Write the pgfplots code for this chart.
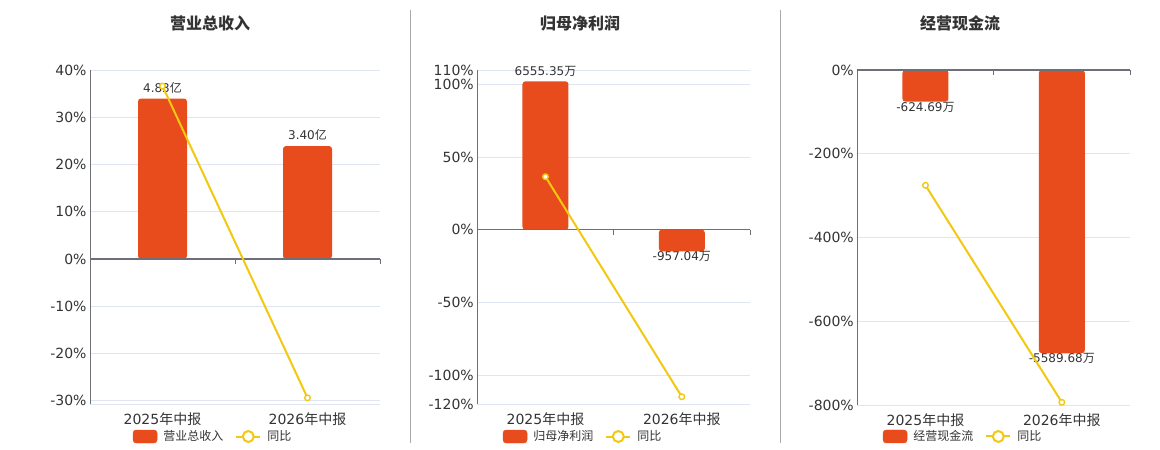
\documentclass[border=0pt]{standalone}
\usepackage{fontspec}
\setmainfont{DejaVu Sans}
\newfontfamily\cjk{Noto Sans CJK SC}
\usepackage{pgfplots}
\pgfplotsset{compat=1.18}
\definecolor{barc}{HTML}{E84C1C}
\definecolor{linec}{HTML}{F2C811}
\definecolor{gridc}{HTML}{E0E6F1}
\definecolor{axc}{HTML}{6E7079}
\definecolor{txt}{HTML}{333333}
\definecolor{sepc}{HTML}{AAAAAA}
\pgfplotsset{
  gaxis/.style={scale only axis, anchor=south west, xmin=-0.5, xmax=1.5,
    xtick={0,1}, xticklabels={2025{\cjk 年中报},2026{\cjk 年中报}},
    yticklabel={\pgfmathprintnumber{\tick}\%},
    /pgf/number format/assume math mode=true,
    ymajorgrids, grid style={gridc, line width=0.8pt},
    axis line style={draw=none}, major tick length=0pt,
    tick label style={font=\fontsize{14}{16}\selectfont, text=txt},
    xticklabel style={yshift=-5pt}},
  baxis/.style={scale only axis, anchor=south west, xmin=-0.5, xmax=1.5, hide axis, clip=false,
    ybar, point meta=y,
    nodes near coords style={font=\fontsize{12}{14}\selectfont, text=txt, inner sep=2.5pt, yshift=2.5pt}},
  laxis/.style={scale only axis, anchor=south west, xmin=-0.5, xmax=1.5, hide axis, clip=false,
    legend columns=-1,
    legend style={anchor=west, draw=none, fill=none, inner sep=0pt,
      font=\fontsize{12}{14}\selectfont\cjk, text=txt,
      nodes={inner sep=0pt},
      /tikz/every odd column/.append style={column sep=6pt},
      /tikz/every even column/.append style={column sep=12pt}}},
  barleg/.style={legend image code/.code={\fill[barc, rounded corners=3pt] (0pt,-6.5pt) rectangle (24pt,6.5pt);}},
  lineleg/.style={legend image code/.code={\draw[linec,line width=2pt] (0pt,0pt)--(24pt,0pt); \draw[linec,line width=2pt,fill=white] (12pt,0pt) circle (5.5pt);}},
  lplot/.style={linec, line width=2pt, mark=*, mark size=2.8pt, mark options={fill=white, draw=linec, line width=1.4pt}},
}
\begin{document}
\begin{tikzpicture}
\useasboundingbox (0pt,0pt) rectangle (1160pt,450pt);
% separators
\draw[sepc, line width=1pt] (410.5pt,7pt) -- (410.5pt,440pt);
\draw[sepc, line width=1pt] (780.5pt,7pt) -- (780.5pt,440pt);
% titles
\node[font=\fontsize{16}{18}\selectfont\cjk\bfseries, text=txt] at (210pt,427pt) {营业总收入};
\node[font=\fontsize{16}{18}\selectfont\cjk\bfseries, text=txt] at (580pt,427pt) {归母净利润};
\node[font=\fontsize{16}{18}\selectfont\cjk\bfseries, text=txt] at (960pt,427pt) {经营现金流};

% ===== Panel 1 =====
\begin{axis}[gaxis, at={(90pt,46pt)}, width=290pt, height=334pt,
  ymin=-30.7, ymax=40, ytick={-30,-20,...,40},
  extra y ticks={-30.7}, extra y tick labels={}, extra y tick style={grid=major}]
\end{axis}
\begin{axis}[baxis, at={(90pt,46pt)}, width=290pt, height=334pt,
  ymin=-4.363, ymax=5.688, bar width=49pt,
  nodes near coords={\pgfmathprintnumber[fixed,fixed zerofill,precision=2,1000 sep={},assume math mode=true]{\pgfplotspointmeta}{\cjk 亿}}]
\addplot[fill=barc, draw=none, rounded corners=3pt] coordinates {(0,4.83) (1,3.40)};
\draw[axc, line width=1.2pt] (axis cs:-0.5,0) -- (axis cs:1.5,0);
\draw[axc, line width=1pt] (axis cs:-0.5,-4.363) -- (axis cs:-0.5,5.688);
\draw[axc, line width=1pt] (axis cs:0.5,0) -- ++(0pt,-5pt);
\draw[axc, line width=1pt] (axis cs:1.5,0) -- ++(0pt,-5pt);
\end{axis}
\begin{axis}[laxis, at={(90pt,46pt)}, width=290pt, height=334pt,
  ymin=-30.7, ymax=40, legend style={at={(0.1472,-0.0973)}}]
\addlegendimage{barleg}
\addlegendentry{营业总收入}
\addplot[lplot, lineleg] coordinates {(0,36.6) (1,-29.4)};
\addlegendentry{同比}
\end{axis}

% ===== Panel 2 =====
\begin{axis}[gaxis, at={(477.3pt,46pt)}, width=272.7pt, height=334pt,
  ymin=-120, ymax=110, ytick={-120,-100,-50,0,50,100,110}]
\end{axis}
\begin{axis}[baxis, at={(477.3pt,46pt)}, width=272.7pt, height=334pt,
  ymin=-7699, ymax=7054, bar width=46pt,
  nodes near coords={\pgfmathprintnumber[fixed,fixed zerofill,precision=2,1000 sep={},assume math mode=true]{\pgfplotspointmeta}{\cjk 万}}]
\addplot[fill=barc, draw=none, rounded corners=3pt] coordinates {(0,6555.35) (1,-957.04)};
\draw[axc, line width=1.2pt] (axis cs:-0.5,0) -- (axis cs:1.5,0);
\draw[axc, line width=1pt] (axis cs:-0.5,-7699) -- (axis cs:-0.5,7054);
\draw[axc, line width=1pt] (axis cs:0.5,0) -- ++(0pt,-5pt);
\draw[axc, line width=1pt] (axis cs:1.5,0) -- ++(0pt,-5pt);
\end{axis}
\begin{axis}[laxis, at={(477.3pt,46pt)}, width=272.7pt, height=334pt,
  ymin=-120, ymax=110, legend style={at={(0.0931,-0.0973)}}]
\addlegendimage{barleg}
\addlegendentry{归母净利润}
\addplot[lplot, lineleg] coordinates {(0,36.5) (1,-115.0)};
\addlegendentry{同比}
\end{axis}

% ===== Panel 3 =====
\begin{axis}[gaxis, at={(857.3pt,45pt)}, width=272.7pt, height=335pt,
  ymin=-800, ymax=0, ytick={-800,-600,...,0}]
\end{axis}
\begin{axis}[baxis, at={(857.3pt,45pt)}, width=272.7pt, height=335pt,
  ymin=-6610, ymax=0, bar width=46pt,
  nodes near coords={\pgfmathprintnumber[fixed,fixed zerofill,precision=2,1000 sep={},assume math mode=true]{\pgfplotspointmeta}{\cjk 万}}]
\addplot[fill=barc, draw=none, rounded corners=3pt] coordinates {(0,-624.69) (1,-5589.68)};
\draw[axc, line width=1.2pt] (axis cs:-0.5,0) -- (axis cs:1.5,0);
\draw[axc, line width=1pt] (axis cs:-0.5,-6610) -- (axis cs:-0.5,0);
\draw[axc, line width=1pt] (axis cs:0.5,0) -- ++(0pt,-5pt);
\draw[axc, line width=1pt] (axis cs:1.5,0) -- ++(0pt,-5pt);
\end{axis}
\begin{axis}[laxis, at={(857.3pt,45pt)}, width=272.7pt, height=335pt,
  ymin=-800, ymax=0, legend style={at={(0.0931,-0.094)}}]
\addlegendimage{barleg}
\addlegendentry{经营现金流}
\addplot[lplot, lineleg] coordinates {(0,-275.3) (1,-793.6)};
\addlegendentry{同比}
\end{axis}
\end{tikzpicture}
\end{document}
